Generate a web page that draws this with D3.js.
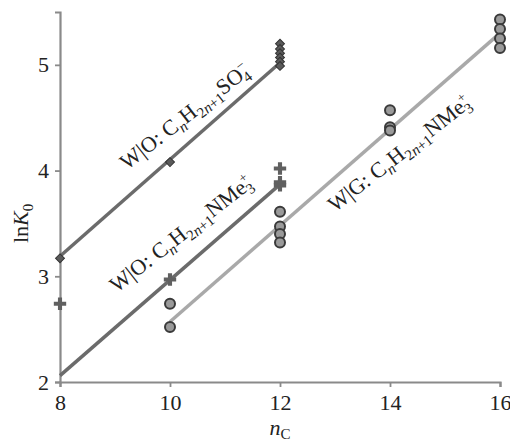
<!DOCTYPE html>
<html>
<head>
<meta charset="utf-8">
<script src="https://cdn.jsdelivr.net/npm/d3@7"></script>
<style>
  html, body { margin: 0; padding: 0; background: #fff; }
  svg { display: block; }
  text { font-family: "Liberation Serif", "DejaVu Serif", serif; fill: #222; }
</style>
</head>
<body>
<svg id="chart" width="510" height="442"></svg>
<script>
// Alkyl chain length (n_C) vs. ln K0 for three surfactant systems
const xTicks = [8, 10, 12, 14, 16];
const yTicks = [2, 3, 4, 5];

// W|O: CnH2n+1SO4- (diamonds)
const so4X = [8, 10, 12, 12, 12, 12, 12, 12];
const so4Y = [3.17, 4.08, 5.20, 5.15, 5.11, 5.07, 5.03, 4.99];
const so4Fit = [[8, 3.19], [12, 5.02]];

// W|O: CnH2n+1NMe3+ (plus signs)
const nmeOX = [8, 10, 12, 12, 12];
const nmeOY = [2.74, 2.97, 4.02, 3.89, 3.86];
const nmeOFit = [[8, 2.06], [12, 3.87]];

// W|G: CnH2n+1NMe3+ (circles)
const nmeGX = [10, 10, 12, 12, 12, 12, 14, 14, 14, 16, 16, 16, 16];
const nmeGY = [2.74, 2.52, 3.61, 3.47, 3.40, 3.32, 4.57, 4.41, 4.38, 5.43, 5.34, 5.25, 5.16];
const nmeGFit = [[10, 2.57], [16, 5.30]];

const svg = d3.select("#chart");
const margin = { left: 60, right: 10, top: 12, bottom: 60 };
const width = 500 - margin.left;
const height = 382 - margin.top;

const x = d3.scaleLinear().domain([8, 16]).range([margin.left, margin.left + width]);
const y = d3.scaleLinear().domain([2, 5.5]).range([margin.top + height, margin.top]);

const axisColor = "#8a8a8a";

// axes
const gx = svg.append("g")
  .attr("transform", `translate(0,${y(2)})`)
  .call(d3.axisBottom(x).tickValues(xTicks).tickSize(5).tickPadding(7).tickFormat(d3.format("d")));
const gy = svg.append("g")
  .attr("transform", `translate(${x(8)},0)`)
  .call(d3.axisLeft(y).tickValues(yTicks).tickSize(5).tickPadding(6).tickFormat(d3.format("d")));

[gx, gy].forEach(g => {
  g.select(".domain").attr("stroke", axisColor).attr("stroke-width", 2.2);
  g.selectAll(".tick line").attr("stroke", axisColor).attr("stroke-width", 1.8);
  g.selectAll(".tick text").attr("font-size", 22).attr("fill", "#222")
    .attr("font-family", "Liberation Serif, DejaVu Serif, serif");
});

// fit lines
const line = d3.line().x(d => x(d[0])).y(d => y(d[1]));
svg.append("path").datum(nmeGFit).attr("d", line)
  .attr("stroke", "#a9a9a9").attr("stroke-width", 3.5).attr("fill", "none");
svg.append("path").datum(so4Fit).attr("d", line)
  .attr("stroke", "#6b6b6b").attr("stroke-width", 3.5).attr("fill", "none");
svg.append("path").datum(nmeOFit).attr("d", line)
  .attr("stroke", "#6b6b6b").attr("stroke-width", 3.5).attr("fill", "none");

// markers: diamonds are squares turned by 45 degrees
const diamond = d3.symbol().type(d3.symbolSquare).size(40);
svg.append("g").selectAll("path").data(so4X.map((v, i) => [v, so4Y[i]])).join("path")
  .attr("d", diamond)
  .attr("transform", d => `translate(${x(d[0])},${y(d[1])}) rotate(45)`)
  .attr("fill", "#5a5a5a").attr("stroke", "#333").attr("stroke-width", 1);

const plus = d3.symbol().type(d3.symbolCross).size(85);
svg.append("g").selectAll("path").data(nmeOX.map((v, i) => [v, nmeOY[i]])).join("path")
  .attr("d", plus)
  .attr("transform", d => `translate(${x(d[0])},${y(d[1])})`)
  .attr("fill", "#606060").attr("stroke", "none");

svg.append("g").selectAll("circle").data(nmeGX.map((v, i) => [v, nmeGY[i]])).join("circle")
  .attr("cx", d => x(d[0])).attr("cy", d => y(d[1])).attr("r", 5)
  .attr("fill", "#9a9a9a").attr("stroke", "#3a3a3a").attr("stroke-width", 2);

// series labels along the lines
function seriesLabel(pos, angle, parts) {
  const t = svg.append("text")
    .attr("transform", `translate(${x(pos[0])},${y(pos[1])}) rotate(${angle})`)
    .attr("font-size", 22);
  let shift = 0;
  parts.forEach(p => {
    const target = p.dy || 0;
    const ts = t.append("tspan").text(p.t).attr("dy", target - shift);
    if (p.i) ts.attr("font-style", "italic");
    if (p.s) ts.attr("font-size", p.s);
    if (p.dx) ts.attr("dx", p.dx);
    shift = target;
  });
  if (shift) t.append("tspan").text("\u200b").attr("dy", -shift);
}

const base = [
  { t: "W|O: C" }, { t: "n", i: true, s: 15, dy: 5 },
  { t: "H" }, { t: "2", s: 15, dy: 5 }, { t: "n", i: true, s: 15, dy: 5 }, { t: "+1", s: 15, dy: 5 }
];

seriesLabel([9.22, 4.0], -38, base.concat([
  { t: "SO" }, { t: "\u2212", s: 14, dy: -9 }, { t: "4", s: 15, dy: 5, dx: -9 }
]));
seriesLabel([9.03, 2.84], -38, base.concat([
  { t: "NMe" }, { t: "+", s: 13, dy: -9 }, { t: "3", s: 15, dy: 5, dx: -8 }
]));
seriesLabel([13.0, 3.6], -38, [
  { t: "W|G: C" }, { t: "n", i: true, s: 15, dy: 5 },
  { t: "H" }, { t: "2", s: 15, dy: 5 }, { t: "n", i: true, s: 15, dy: 5 }, { t: "+1", s: 15, dy: 5 },
  { t: "NMe" }, { t: "+", s: 13, dy: -9 }, { t: "3", s: 15, dy: 5, dx: -8 }
]);

// axis titles
const yt = svg.append("text")
  .attr("transform", `translate(28,${y(3.5)}) rotate(-90)`)
  .attr("text-anchor", "middle").attr("font-size", 22);
yt.append("tspan").text("ln");
yt.append("tspan").text("K").attr("font-style", "italic");
yt.append("tspan").text("0").attr("font-size", 15).attr("dy", 5);

const xt = svg.append("text")
  .attr("transform", `translate(${x(12)},435)`)
  .attr("text-anchor", "middle").attr("font-size", 22);
xt.append("tspan").text("n").attr("font-style", "italic");
xt.append("tspan").text("C").attr("font-size", 15).attr("dy", 4);
</script>
</body>
</html>
